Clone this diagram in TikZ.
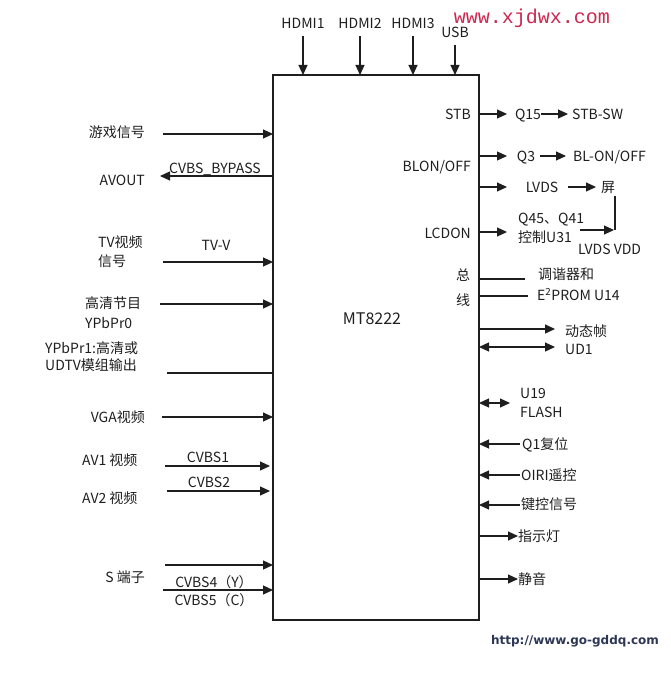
\documentclass[tikz,border=0pt]{standalone}
\usepackage{fontspec}
\setmainfont{Noto Sans CJK SC}
\newfontfamily\wmfont{Liberation Mono}
\newfontfamily\urlfont{DejaVu Sans}
\usetikzlibrary{arrows.meta}
\definecolor{ink}{RGB}{30,30,30}
\definecolor{wmred}{RGB}{205,40,80}
\definecolor{urlblue}{RGB}{45,55,85}
\begin{document}
\begin{tikzpicture}[x=1pt,y=-1pt,
  lbl/.style={inner sep=0pt,text=ink,text height=10.5pt,text depth=0pt,font=\fontsize{14}{16}\selectfont},
  ln/.style={draw=ink,line width=1.2pt},
  arr/.style={ln,-{Triangle[length=10pt,width=9pt]}},
  darr/.style={ln,{Triangle[length=10pt,width=9pt]}-{Triangle[length=10pt,width=9pt]}}]
\useasboundingbox (0,0) rectangle (670,674);
% main chip
\node[draw=ink,line width=1.2pt,minimum width=206pt,minimum height=545pt,inner sep=0pt] (mt) at (376,347.5) {};
\node[lbl,text height=12pt,font=\fontsize{16}{18}\selectfont] (mtl) at (372,318) {MT8222};
% top inputs
\node[lbl] (h1) at (303,23) {HDMI1};
\node[lbl] (h2) at (360,23) {HDMI2};
\node[lbl] (h3) at (413,23) {HDMI3};
\node[lbl] (usb) at (455,32) {USB};
\draw[arr] (303,36) -- (303,75);
\draw[arr] (360,36) -- (360,75);
\draw[arr] (413,36) -- (413,75);
\draw[arr] (455,45) -- (455,75);
\node[inner sep=0pt,text=wmred,font=\wmfont\fontsize{20}{22}\selectfont] (wm) at (532,18) {www.xjdwx.com};
% right side
\node[lbl,anchor=east] (stb) at (471,114) {STB};
\draw[arr] (479,114) -- (507,114);
\node[lbl] (q15) at (528,114) {Q15};
\draw[arr] (541,114) -- (568,114);
\node[lbl,anchor=west] (stbsw) at (572,114) {STB-SW};
\node[lbl,anchor=east] (blon) at (471,166) {BLON/OFF};
\draw[arr] (479,156) -- (507,156);
\node[lbl] (q3) at (526,156) {Q3};
\draw[arr] (540,156) -- (566,156);
\node[lbl,anchor=west] (blonoff) at (573,156) {BL-ON/OFF};
\draw[arr] (479,187) -- (507,187);
\node[lbl] (lvds) at (542,187) {LVDS};
\draw[arr] (568,187) -- (596,187);
\node[lbl] (ping) at (608,187) {屏};
\draw[ln] (615,196) -- (615,230);
\draw[arr] (580,230) -- (614,230);
\node[lbl,anchor=east] (lcdon) at (471,233) {LCDON};
\draw[arr] (479,232) -- (507,232);
\node[lbl,anchor=west] (q45) at (518,218) {Q45、Q41};
\node[lbl,anchor=west] (kz) at (518,237) {控制U31};
\node[lbl,anchor=west] (lvdd) at (578,249) {LVDS VDD};
\node[lbl] (zong) at (463,275) {总};
\node[lbl] (xian) at (463,300) {线};
\draw[ln] (479,279) -- (525,279);
\draw[ln] (479,296) -- (528,296);
\node[lbl,anchor=west] (tx) at (538,274) {调谐器和};
\node[lbl,anchor=west] (e2) at (537,295) {E\textsuperscript{2}PROM U14};
\draw[arr] (479,329) -- (555,329);
\node[lbl,anchor=west] (dtz) at (565,331) {动态帧};
\draw[darr] (479,347) -- (555,347);
\node[lbl,anchor=west] (ud1) at (565,349) {UD1};
\draw[darr] (479,403) -- (510,403);
\node[lbl,anchor=west] (u19) at (520,393) {U19};
\node[lbl,anchor=west] (flash) at (520,412) {FLASH};
\draw[arr] (520,444) -- (479,444);
\node[lbl,anchor=west] (q1) at (522,444) {Q1复位};
\draw[arr] (520,475) -- (479,475);
\node[lbl,anchor=west] (oiri) at (521,475) {OIRI遥控};
\draw[arr] (520,505) -- (479,505);
\node[lbl,anchor=west] (jk) at (521,504) {键控信号};
\draw[arr] (479,536) -- (518,536);
\node[lbl,anchor=west] (zsd) at (518,536) {指示灯};
\draw[arr] (479,579) -- (518,579);
\node[lbl,anchor=west] (jy) at (518,579) {静音};
% left side
\node[lbl,anchor=east] (yx) at (145,132) {游戏信号};
\draw[arr] (163,134) -- (273,134);
\node[lbl,anchor=east] (avout) at (145,180) {AVOUT};
\draw[arr] (273,176) -- (160,176);
\node[lbl] (byp) at (215,168) {CVBS\_BYPASS};
\node[lbl,anchor=west] (tv1) at (98,242) {TV视频};
\node[lbl,anchor=west] (tv2) at (98,261) {信号};
\draw[arr] (163,262) -- (273,262);
\node[lbl] (tvv) at (216,245) {TV-V};
\node[lbl,anchor=west] (gq) at (85,303) {高清节目};
\node[lbl,anchor=west] (ypb0) at (85,323) {YPbPr0};
\draw[arr] (160,304) -- (273,304);
\node[lbl,anchor=west] (ypb1) at (45,348) {YPbPr1:高清或};
\node[lbl,anchor=west] (udtv) at (45,365) {UDTV模组输出};
\draw[ln] (167,373) -- (272,373);
\node[lbl,anchor=east] (vga) at (145,417) {VGA视频};
\draw[arr] (162,417) -- (273,417);
\node[lbl,anchor=west] (av1) at (82,460) {AV1 视频};
\draw[arr] (165,466) -- (270,466);
\node[lbl] (c1) at (208,457) {CVBS1};
\node[lbl,anchor=west] (av2) at (82,498) {AV2 视频};
\draw[arr] (167,491) -- (270,491);
\node[lbl] (c2) at (209,482) {CVBS2};
\node[lbl,anchor=east] (sdz) at (145,577) {S 端子};
\draw[arr] (165,565) -- (273,565);
\draw[arr] (163,590) -- (273,590);
\node[lbl] (c4) at (214,582) {CVBS4（Y）};
\node[lbl] (c5) at (214,600) {CVBS5（C）};
% url
\node[inner sep=0pt,text=urlblue,font=\urlfont\bfseries\fontsize{12}{14}\selectfont] (url) at (575,641) {http://www.go-gddq.com};
\end{tikzpicture}
\end{document}
